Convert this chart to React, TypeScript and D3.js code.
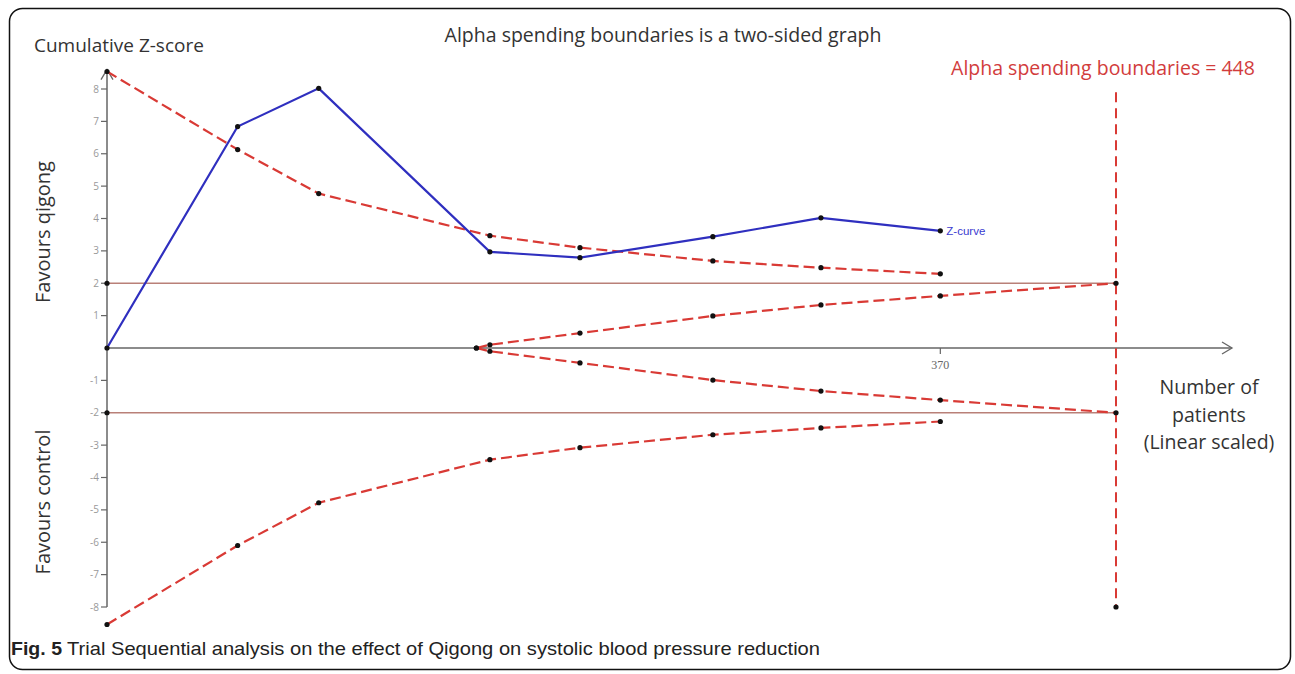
import React from "react";
import * as d3 from "d3";

const zPatients = [0, 58, 94, 170, 210, 269, 317, 370];
const zCurve = [0, 6.84, 8.02, 2.97, 2.79, 3.44, 4.02, 3.62];
const alphaUpper = [8.54, 6.13, 4.77, 3.47, 3.1, 2.69, 2.48, 2.29];
const alphaLower = [-8.54, -6.1, -4.78, -3.45, -3.08, -2.68, -2.47, -2.27];
const futPatients = [164, 170, 210, 269, 317, 370, 448];
const futUpper = [0, 0.1, 0.46, 0.99, 1.33, 1.61, 2];
const futLower = [0, -0.1, -0.46, -0.99, -1.33, -1.61, -2];
const yTicks = [-8, -7, -6, -5, -4, -3, -2, -1, 1, 2, 3, 4, 5, 6, 7, 8];
const xTicks = [370];
const requiredSize = 448;
const conventional = [2, -2];

const W = 1295;
const H = 674;
const RED = "#d93a35";
const BLUE = "#2f2fbf";
const AXIS = "#666";
const FONT = "'Open Sans', 'Liberation Sans', sans-serif";

export default function App() {
  const x = d3.scaleLinear().domain([0, requiredSize]).range([107, 1116]);
  const y = d3.scaleLinear().domain([-8, 8]).range([607, 89]);
  const line = d3
    .line<[number, number]>()
    .x((d) => x(d[0]))
    .y((d) => y(d[1]));

  const zPts: [number, number][] = zPatients.map((p, i) => [p, zCurve[i]]);
  const upPts: [number, number][] = zPatients.map((p, i) => [p, alphaUpper[i]]);
  const loPts: [number, number][] = zPatients.map((p, i) => [p, alphaLower[i]]);
  const fuPts: [number, number][] = futPatients.map((p, i) => [p, futUpper[i]]);
  const flPts: [number, number][] = futPatients.map((p, i) => [p, futLower[i]]);

  const x0 = x(0);
  const y0 = y(0);
  const yTop = y(8.6);
  const xEnd = 1232;

  const dots: [number, number][] = [
    ...zPts,
    ...upPts,
    ...loPts,
    ...fuPts,
    ...flPts,
    [0, 2],
    [0, -2],
    [requiredSize, -8],
  ];

  return (
    <svg
      width={W}
      height={H}
      style={{ position: "absolute", left: 0, top: 0, background: "#fff" }}
    >
      <rect x={0} y={0} width={W} height={H} fill="#fff" />
      <rect
        x={9.5}
        y={8.5}
        width={1281}
        height={661}
        rx={13}
        fill="none"
        stroke="#111"
        strokeWidth={1.5}
      />

      {/* conventional boundaries */}
      {conventional.map((v) => (
        <line
          key={v}
          x1={x0}
          x2={x(requiredSize)}
          y1={y(v)}
          y2={y(v)}
          stroke="#b98078"
          strokeWidth={1.6}
        />
      ))}

      {/* axes */}
      <line x1={x0} x2={x0} y1={y(-8)} y2={yTop} stroke={AXIS} strokeWidth={1.5} />
      <polyline
        points={`${x0 - 6},${yTop + 10} ${x0},${yTop} ${x0 + 6},${yTop + 10}`}
        fill="none"
        stroke={AXIS}
        strokeWidth={1.3}
      />
      <line x1={x0} x2={xEnd} y1={y0} y2={y0} stroke={AXIS} strokeWidth={1.5} />
      <polyline
        points={`${xEnd - 10},${y0 - 6} ${xEnd},${y0} ${xEnd - 10},${y0 + 6}`}
        fill="none"
        stroke={AXIS}
        strokeWidth={1.3}
      />
      {yTicks.map((t) => (
        <g key={t}>
          <line x1={x0 - 6} x2={x0} y1={y(t)} y2={y(t)} stroke={AXIS} strokeWidth={1.2} />
          <text
            x={x0 - 8}
            y={y(t) + 3.5}
            textAnchor="end"
            fontSize={10}
            fill="#999"
            fontFamily={FONT}
          >
            {t}
          </text>
        </g>
      ))}
      {xTicks.map((t) => (
        <g key={t}>
          <line x1={x(t)} x2={x(t)} y1={y0} y2={y0 + 6} stroke={AXIS} strokeWidth={1.2} />
          <text
            x={x(t)}
            y={y0 + 21}
            textAnchor="middle"
            fontSize={12}
            fill="#666"
            fontFamily="'Liberation Serif', serif"
          >
            {t}
          </text>
        </g>
      ))}

      {/* required information size */}
      <line
        x1={x(requiredSize)}
        x2={x(requiredSize)}
        y1={y(7.9)}
        y2={y(-8)}
        stroke={RED}
        strokeWidth={2}
        strokeDasharray="10,6"
      />

      {/* boundaries */}
      {[upPts, loPts, fuPts, flPts].map((pts, i) => (
        <path
          key={i}
          d={line(pts) || ""}
          fill="none"
          stroke={RED}
          strokeWidth={2.2}
          strokeDasharray="11,5"
        />
      ))}

      {/* z-curve */}
      <path d={line(zPts) || ""} fill="none" stroke={BLUE} strokeWidth={2.2} />

      {dots.map((d, i) => (
        <circle key={i} cx={x(d[0])} cy={y(d[1])} r={2.6} fill="#111" />
      ))}

      <text
        x={x(370) + 6}
        y={y(zCurve[zCurve.length - 1]) + 4}
        fontSize={11.5}
        fill="#3a3ad0"
        fontFamily="'Liberation Sans', Arial, sans-serif"
      >
        Z-curve
      </text>

      {/* texts */}
      <text x={34} y={52} fontSize={19} fill="#333" fontFamily={FONT}>
        Cumulative Z-score
      </text>
      <text
        x={663}
        y={42}
        textAnchor="middle"
        fontSize={19.5}
        fill="#333"
        fontFamily={FONT}
      >
        Alpha spending boundaries is a two-sided graph
      </text>
      <text
        x={1103}
        y={75}
        textAnchor="middle"
        fontSize={19.5}
        fill="#d23c3c"
        fontFamily={FONT}
      >
        Alpha spending boundaries = 448
      </text>
      <text
        transform="translate(50,232) rotate(-90)"
        textAnchor="middle"
        fontSize={20}
        fill="#333"
        fontFamily={FONT}
      >
        Favours qigong
      </text>
      <text
        transform="translate(50,502) rotate(-90)"
        textAnchor="middle"
        fontSize={20}
        fill="#333"
        fontFamily={FONT}
      >
        Favours control
      </text>
      {["Number of", "patients", "(Linear scaled)"].map((s, i) => (
        <text
          key={s}
          x={1209}
          y={394 + i * 27.5}
          textAnchor="middle"
          fontSize={19.5}
          fill="#333"
          fontFamily={FONT}
        >
          {s}
        </text>
      ))}

      {/* caption */}
      <text
        x={11}
        y={655}
        fontSize={19}
        fill="#222"
        fontFamily="'Liberation Sans Narrow', 'Liberation Sans', sans-serif"
      >
        <tspan fontWeight="bold" textLength={51} lengthAdjust="spacingAndGlyphs">
          Fig. 5
        </tspan>
        <tspan dx={5} textLength={753} lengthAdjust="spacingAndGlyphs">
          Trial Sequential analysis on the effect of Qigong on systolic blood pressure reduction
        </tspan>
      </text>
    </svg>
  );
}
